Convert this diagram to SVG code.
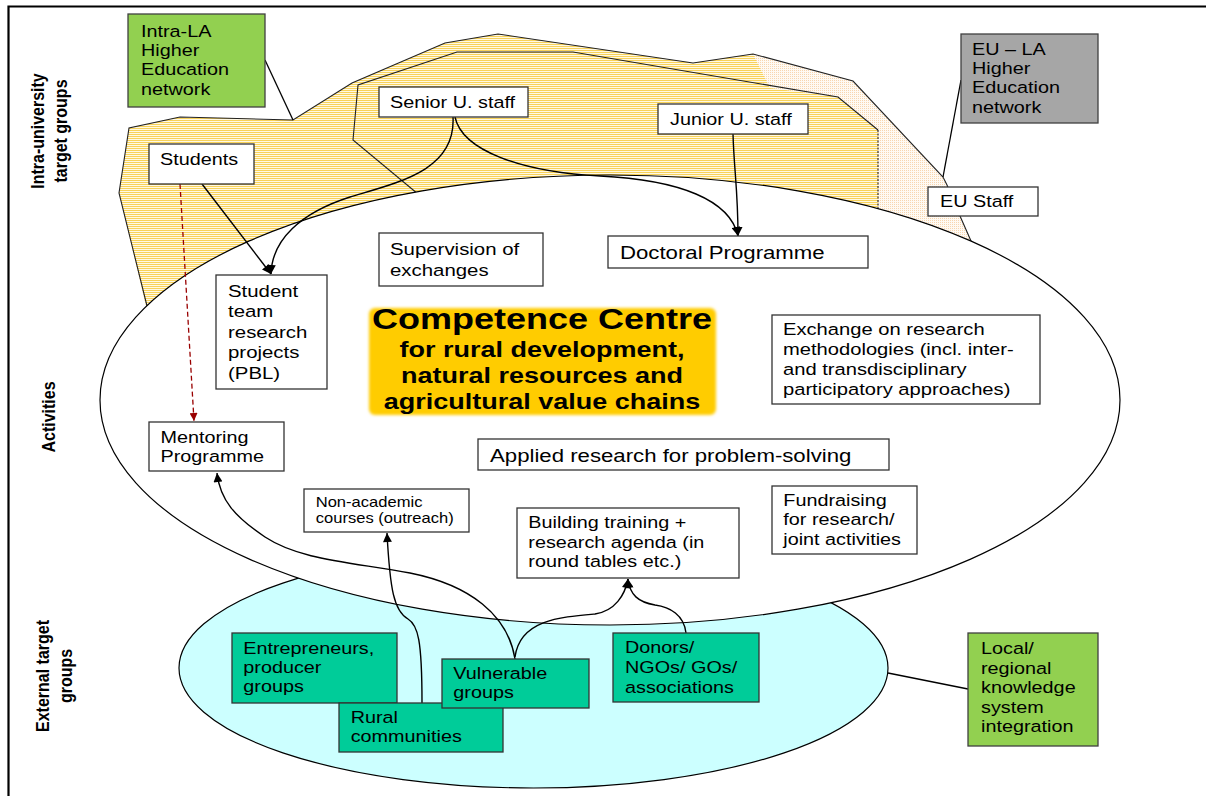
<svg xmlns="http://www.w3.org/2000/svg" width="1206" height="796" viewBox="0 0 1206 796">
<defs>
<style>
.t{font-family:"Liberation Sans",Arial,sans-serif;font-size:16.5px;fill:#000}
.tb{font-family:"Liberation Sans",Arial,sans-serif;font-weight:bold;fill:#000}
.box{fill:#fff;stroke:#333;stroke-width:1.3}
.lg{fill:#92D050;stroke:#404040;stroke-width:1.3}
.gr{fill:#A6A6A6;stroke:#404040;stroke-width:1.3}
.tl{fill:#00CC99;stroke:#333;stroke-width:1.3}
.ln{fill:none;stroke:#000;stroke-width:1.3}
.arr{fill:none;stroke:#000;stroke-width:1.4;marker-end:url(#ah)}
.edge{fill:none;stroke:#222;stroke-width:1.1}
</style>
<pattern id="hy" width="2" height="2" patternUnits="userSpaceOnUse">
<rect width="2" height="2" fill="#FFF9E3"/>
<rect width="2" height="1" fill="#F8D25A"/>
</pattern>
<pattern id="hl" width="2" height="2" patternUnits="userSpaceOnUse">
<rect width="2" height="2" fill="#FFFAF3"/>
<rect width="1" height="1" fill="#F8D6B0"/>
</pattern>
<marker id="ah" viewBox="0 0 10 10" refX="10" refY="5" markerWidth="10" markerHeight="9" markerUnits="userSpaceOnUse" orient="auto">
<path d="M0,0 L10,5 L0,10 z" fill="#000"/>
</marker>
<marker id="ahr" viewBox="0 0 10 10" refX="10" refY="5" markerWidth="9" markerHeight="8" markerUnits="userSpaceOnUse" orient="auto">
<path d="M0,0 L10,5 L0,10 z" fill="#990000"/>
</marker>
<filter id="soft" x="-5%" y="-10%" width="110%" height="120%">
<feGaussianBlur stdDeviation="1.6"/>
</filter>
</defs>

<rect width="1206" height="796" fill="#fff"/>
<path d="M8.5,796 L8.5,6.5 L1206,6.5" fill="none" stroke="#000" stroke-width="2.2"/>

<!-- hatched university areas -->
<g id="areas">
<path d="M147,310 L119,193 L129,128 L180,117 L293,120 L352,83 L445,43 L498,34 L693,63 L753,54 L853,81 L943,177 L947,185 L960,216 L975,250 L980,280 L600,280 L150,330 Z" fill="url(#hl)"/>
<path d="M147,310 L119,193 L129,128 L180,117 L293,120 L352,83 L445,43 L498,34 L693,63 L753,54 L770,88 L838,97 L878,130 L878,280 L600,280 L150,330 Z" fill="url(#hy)"/>
<polyline class="edge" points="148,310 119,193 129,128 180,117 293,120 352,83 445,43 498,34 693,63 753,54 853,81 943,177 947,185 960,216 975,250"/>
<polyline class="edge" points="424,199 353,140 358,85 457,52 573,52 838,97 878,130"/>
<line x1="878" y1="130" x2="878" y2="215" stroke="#222" stroke-width="1.1" stroke-dasharray="2 1.5"/>
</g>

<g id="external-area">
<ellipse cx="533.5" cy="668" rx="354.5" ry="120" fill="#CCFFFF" stroke="#000" stroke-width="1.2"/>
</g>
<g id="activities-area">
<ellipse cx="610" cy="400" rx="510" ry="225" fill="#fff" stroke="#000" stroke-width="1.2"/>
</g>

<!-- side labels -->
<g id="labels">
<text class="tb" font-size="16" text-anchor="middle" transform="translate(44,131) scale(1.2,1) rotate(-90)"><tspan x="0" y="0">Intra-university</tspan><tspan x="0" y="19">target groups</tspan></text>
<text class="tb" font-size="16" text-anchor="middle" transform="translate(55,417) scale(1.2,1) rotate(-90)">Activities</text>
<text class="tb" font-size="16" text-anchor="middle" transform="translate(49,676) scale(1.2,1) rotate(-90)"><tspan x="0" y="0">External target</tspan><tspan x="0" y="19">groups</tspan></text>
</g>

<!-- connectors -->
<g id="connectors">
<line class="ln" x1="265" y1="60" x2="293" y2="120"/>
<line class="ln" x1="961" y1="80" x2="943" y2="177"/>
<line class="ln" x1="888" y1="673" x2="968" y2="689"/>
<line class="arr" x1="202" y1="184" x2="271" y2="274"/>
<path class="arr" d="M453,117 C456,170 400,182 350,197 C300,213 272,240 271,274"/>
<path class="arr" d="M455,117 C462,150 520,172 600,176 C680,180 730,200 738,236"/>
<path class="arr" d="M733,134 C734,170 738,190 738,236"/>
<line x1="180" y1="184" x2="194" y2="421" stroke="#990000" stroke-width="1.3" stroke-dasharray="5 3" marker-end="url(#ahr)"/>
<path class="arr" d="M515,659 C508,615 470,585 410,573 C350,562 300,560 265,537 C235,517 220,500 217,473"/>
<path class="arr" d="M422,703 C422,640 418,625 408,619 C394,611 390,590 387,533"/>
<path class="arr" d="M515,657 C520,620 560,617 595,614 C615,611 625,595 628,579"/>
<path class="arr" d="M686,633 C684,615 670,607 655,605 C638,602 630,595 628,579"/>
</g>

<!-- nodes -->
<g id="intra-la">
<rect class="lg" x="128" y="14" width="137" height="93"/>
<text class="t" transform="matrix(1.2,0,0,1,141,36.5)"><tspan x="0" y="0">Intra-LA</tspan><tspan x="0" y="19.5">Higher</tspan><tspan x="0" y="39">Education</tspan><tspan x="0" y="58.5">network</tspan></text>
</g>
<g id="eu-la">
<rect class="gr" x="961" y="34" width="137" height="89"/>
<text class="t" transform="matrix(1.2,0,0,1,972,54.5)"><tspan x="0" y="0">EU – LA</tspan><tspan x="0" y="19.5">Higher</tspan><tspan x="0" y="39">Education</tspan><tspan x="0" y="58.5">network</tspan></text>
</g>
<g id="eu-staff">
<rect class="box" x="928" y="187" width="110" height="29"/>
<text class="t" transform="matrix(1.2,0,0,1,940,207)">EU Staff</text>
</g>
<g id="students">
<rect class="box" x="149" y="144" width="105" height="40"/>
<text class="t" transform="matrix(1.2,0,0,1,160,165)">Students</text>
</g>
<g id="senior">
<rect class="box" x="379" y="87" width="149" height="30"/>
<text class="t" transform="matrix(1.2,0,0,1,390,108.3)">Senior U. staff</text>
</g>
<g id="junior">
<rect class="box" x="658" y="104" width="150" height="30"/>
<text class="t" transform="matrix(1.2,0,0,1,670,125)">Junior U. staff</text>
</g>
<g id="supervision">
<rect class="box" x="379" y="233" width="164" height="53"/>
<text class="t" style="font-size:17px" transform="matrix(1.2,0,0,1,390,255.3)"><tspan x="0" y="0">Supervision of</tspan><tspan x="0" y="20.3">exchanges</tspan></text>
</g>
<g id="doctoral">
<rect class="box" x="608" y="236" width="260" height="32"/>
<text class="t" style="font-size:18.5px" transform="matrix(1.2,0,0,1,620,259)">Doctoral Programme</text>
</g>
<g id="student-team">
<rect class="box" x="216" y="275" width="111" height="114"/>
<text class="t" style="font-size:17px" transform="matrix(1.2,0,0,1,228,296.7)"><tspan x="0" y="0">Student</tspan><tspan x="0" y="20.6">team</tspan><tspan x="0" y="41.2">research</tspan><tspan x="0" y="61.8">projects</tspan><tspan x="0" y="82.4">(PBL)</tspan></text>
</g>
<g id="competence">
<rect x="369" y="308" width="347" height="107" rx="6" fill="#FFCC00" filter="url(#soft)"/>
<text class="tb" text-anchor="middle" transform="matrix(1.2,0,0,1,542,329.3)"><tspan x="0" y="0" style="font-size:30px">Competence Centre</tspan><tspan x="0" y="28" style="font-size:22.5px">for rural development,</tspan><tspan x="0" y="54" style="font-size:22.5px">natural resources and</tspan><tspan x="0" y="80" style="font-size:22.5px">agricultural value chains</tspan></text>
</g>
<g id="exchange">
<rect class="box" x="772" y="315" width="268" height="89"/>
<text class="t" style="font-size:16.8px" transform="matrix(1.2,0,0,1,783,335)"><tspan x="0" y="0">Exchange on research</tspan><tspan x="0" y="20">methodologies (incl. inter-</tspan><tspan x="0" y="40">and transdisciplinary</tspan><tspan x="0" y="60">participatory approaches)</tspan></text>
</g>
<g id="mentoring">
<rect class="box" x="149" y="422" width="135" height="49"/>
<text class="t" transform="matrix(1.2,0,0,1,160.5,442.7)"><tspan x="0" y="0">Mentoring</tspan><tspan x="0" y="19.3">Programme</tspan></text>
</g>
<g id="applied">
<rect class="box" x="478" y="439" width="411" height="31"/>
<text class="t" style="font-size:18.5px" transform="matrix(1.2,0,0,1,490,461.7)">Applied research for problem-solving</text>
</g>
<g id="non-academic">
<rect class="box" x="304" y="489" width="165" height="43"/>
<text class="t" style="font-size:13.8px" transform="matrix(1.2,0,0,1,315.7,506.7)"><tspan x="0" y="0">Non-academic</tspan><tspan x="0" y="16">courses (outreach)</tspan></text>
</g>
<g id="building">
<rect class="box" x="517" y="508" width="222" height="70"/>
<text class="t" transform="matrix(1.2,0,0,1,528.3,528.3)"><tspan x="0" y="0">Building training +</tspan><tspan x="0" y="19.5">research agenda (in</tspan><tspan x="0" y="39">round tables etc.)</tspan></text>
</g>
<g id="fundraising">
<rect class="box" x="772" y="486" width="145" height="68"/>
<text class="t" transform="matrix(1.2,0,0,1,783.3,505.7)"><tspan x="0" y="0">Fundraising</tspan><tspan x="0" y="19.6">for research/</tspan><tspan x="0" y="39.3">joint activities</tspan></text>
</g>
<g id="entrepreneurs">
<rect class="tl" x="232" y="633" width="165" height="70"/>
<text class="t" transform="matrix(1.2,0,0,1,243.3,654)"><tspan x="0" y="0">Entrepreneurs,</tspan><tspan x="0" y="19.3">producer</tspan><tspan x="0" y="38.3">groups</tspan></text>
</g>
<g id="rural">
<rect class="tl" x="339" y="703" width="164" height="49"/>
<text class="t" transform="matrix(1.2,0,0,1,350.7,723.3)"><tspan x="0" y="0">Rural</tspan><tspan x="0" y="19">communities</tspan></text>
</g>
<g id="vulnerable">
<rect class="tl" x="442" y="659" width="147" height="49"/>
<text class="t" transform="matrix(1.2,0,0,1,453.3,679)"><tspan x="0" y="0">Vulnerable</tspan><tspan x="0" y="19.3">groups</tspan></text>
</g>
<g id="donors">
<rect class="tl" x="613" y="633" width="146" height="69"/>
<text class="t" transform="matrix(1.2,0,0,1,625,653.3)"><tspan x="0" y="0">Donors/</tspan><tspan x="0" y="19.4">NGOs/ GOs/</tspan><tspan x="0" y="39.4">associations</tspan></text>
</g>
<g id="local">
<rect class="lg" x="968" y="633" width="130" height="113"/>
<text class="t" transform="matrix(1.2,0,0,1,981,654)"><tspan x="0" y="0">Local/</tspan><tspan x="0" y="19.6">regional</tspan><tspan x="0" y="39.2">knowledge</tspan><tspan x="0" y="58.8">system</tspan><tspan x="0" y="78.4">integration</tspan></text>
</g>
</svg>
